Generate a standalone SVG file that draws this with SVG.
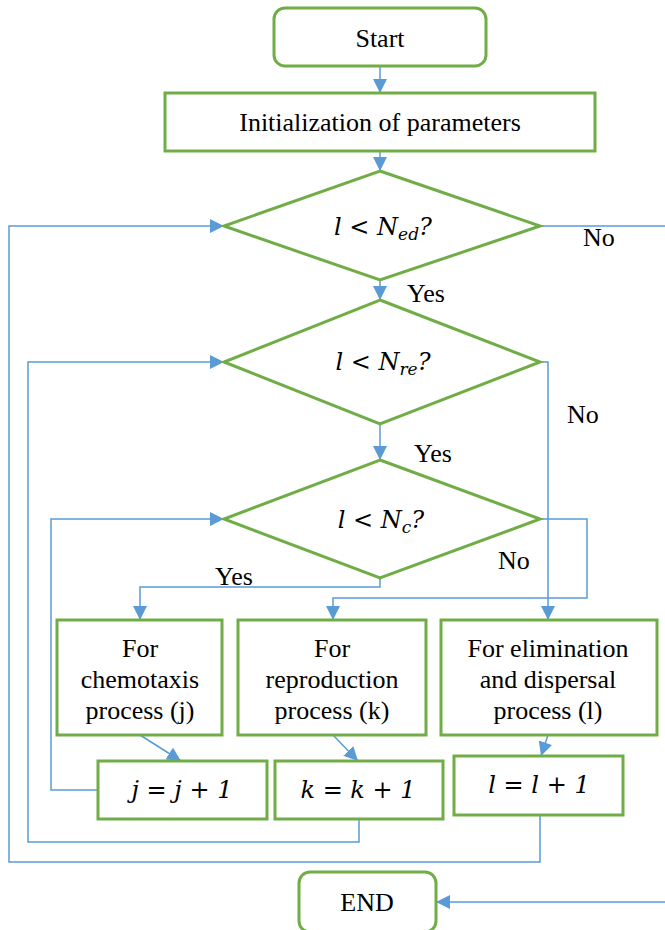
<svg xmlns="http://www.w3.org/2000/svg" width="665" height="930" viewBox="0 0 665 930">
<style>
.box{fill:#fff;stroke:#70AD47;stroke-width:3}
.t{font-family:'Liberation Serif','Times New Roman',Times,'DejaVu Serif',serif;font-size:26px;fill:#000;text-anchor:middle}
.m{font-family:'DejaVu Serif','Liberation Serif',serif;font-size:24px;fill:#000;text-anchor:middle;font-style:italic}
.c{fill:none;stroke:#5B9BD5;stroke-width:1.5}
.lbl{font-family:'Liberation Serif','Times New Roman',Times,'DejaVu Serif',serif;font-size:26px;fill:#000}
</style>
<defs>
<marker id="ah" viewBox="0 0 14 14" refX="14" refY="7" markerWidth="14" markerHeight="14" markerUnits="userSpaceOnUse" orient="auto">
<path d="M0,0 L14,7 L0,14 z" fill="#5B9BD5"/>
</marker>
</defs>
<rect width="665" height="930" fill="#fff"/>
<g id="connectors">
<path class="c" d="M380,66 V93" marker-end="url(#ah)"/>
<path class="c" d="M380,151 V171" marker-end="url(#ah)"/>
<path class="c" d="M380,280 V300" marker-end="url(#ah)"/>
<path class="c" d="M380,424 V460" marker-end="url(#ah)"/>
<path class="c" d="M380,578 V587 H140 V620" marker-end="url(#ah)"/>
<path class="c" d="M540,519 H587 V598 H333 V620" marker-end="url(#ah)"/>
<path class="c" d="M540,362 H548 V620" marker-end="url(#ah)"/>
<path class="c" d="M540,226 H665"/>
<path class="c" d="M665,902 H436" marker-end="url(#ah)"/>
<path class="c" d="M140,735 L181,761" marker-end="url(#ah)"/>
<path class="c" d="M333,735 L358,761" marker-end="url(#ah)"/>
<path class="c" d="M548,735 L541,756" marker-end="url(#ah)"/>
<path class="c" d="M98,790 H51 V519 H224" marker-end="url(#ah)"/>
<path class="c" d="M359,819 V842 H28 V362 H224" marker-end="url(#ah)"/>
<path class="c" d="M540,815 V862 H9 V226 H224" marker-end="url(#ah)"/>
<text class="lbl" x="583" y="246">No</text>
<text class="lbl" x="407" y="302">Yes</text>
<text class="lbl" x="567" y="423">No</text>
<text class="lbl" x="414" y="462">Yes</text>
<text class="lbl" x="498" y="569">No</text>
<text class="lbl" x="215" y="585">Yes</text>
</g>
<g id="start">
<rect class="box" x="274" y="8" width="212" height="58" rx="11"/>
<text class="t" x="380" y="47">Start</text>
</g>
<g id="init">
<rect class="box" x="165" y="93" width="430" height="58"/>
<text class="t" x="380" y="131">Initialization of parameters</text>
</g>
<g id="dec-ed">
<polygon class="box" points="380,171 540,226 380,280 224,226"/>
<text class="m" x="383" y="235">l &lt; N<tspan font-size="17" dy="5">ed</tspan><tspan dy="-5">?</tspan></text>
</g>
<g id="dec-re">
<polygon class="box" points="380,300 540,362 380,424 224,362"/>
<text class="m" x="383" y="370">l &lt; N<tspan font-size="17" dy="5">re</tspan><tspan dy="-5">?</tspan></text>
</g>
<g id="dec-c">
<polygon class="box" points="380,460 540,519 380,578 224,519"/>
<text class="m" x="381" y="528">l &lt; N<tspan font-size="17" dy="5">c</tspan><tspan dy="-5">?</tspan></text>
</g>
<g id="chemotaxis">
<rect class="box" x="57" y="620" width="165" height="115"/>
<text class="t" x="140" y="657">For</text>
<text class="t" x="140" y="688">chemotaxis</text>
<text class="t" x="140" y="719">process (j)</text>
</g>
<g id="reproduction">
<rect class="box" x="238" y="620" width="188" height="115"/>
<text class="t" x="332" y="657">For</text>
<text class="t" x="332" y="688">reproduction</text>
<text class="t" x="332" y="719">process (k)</text>
</g>
<g id="elimination">
<rect class="box" x="441" y="620" width="216" height="115"/>
<text class="t" x="548" y="657">For elimination</text>
<text class="t" x="548" y="688">and dispersal</text>
<text class="t" x="548" y="719">process (l)</text>
</g>
<g id="inc-j">
<rect class="box" x="98" y="761" width="169" height="58"/>
<text class="m" x="182" y="798">j = j + 1</text>
</g>
<g id="inc-k">
<rect class="box" x="275" y="761" width="168" height="58"/>
<text class="m" x="358" y="798">k = k + 1</text>
</g>
<g id="inc-l">
<rect class="box" x="454" y="756" width="169" height="59"/>
<text class="m" x="539" y="793">l = l + 1</text>
</g>
<g id="end">
<rect class="box" x="299" y="872" width="137" height="60" rx="11"/>
<text class="t" x="367" y="911">END</text>
</g>
</svg>
